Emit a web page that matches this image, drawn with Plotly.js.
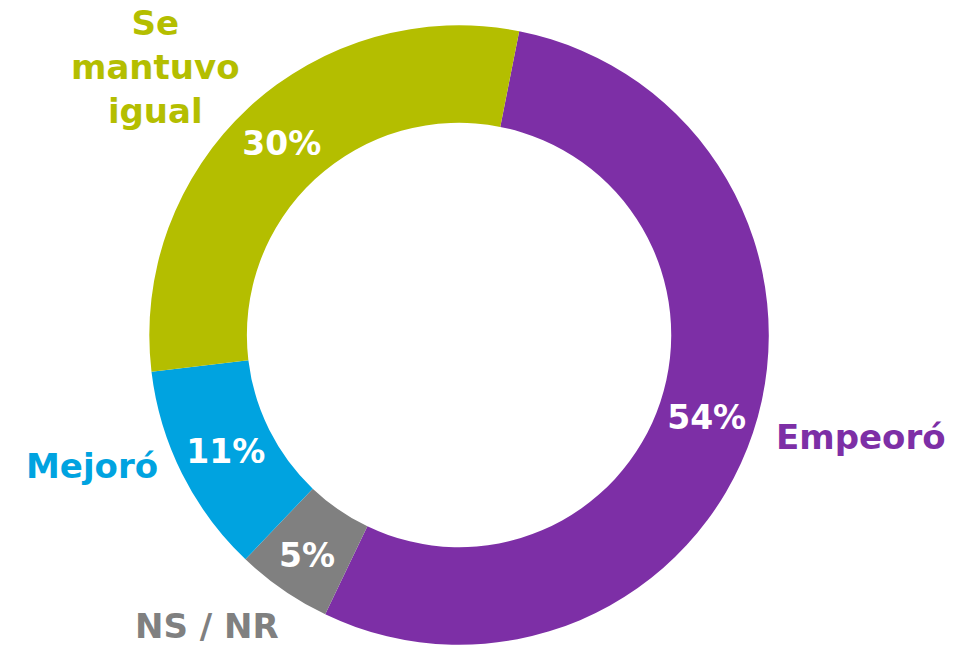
<!DOCTYPE html>
<html>
<head>
<meta charset="utf-8">
<script src="https://cdn.plot.ly/plotly-3.0.1.min.js"></script>
<style>html,body{margin:0;padding:0;background:#fff}#chart{width:979px;height:648px}</style>
</head>
<body>
<div id="chart"></div>
<script>
const categories = ["Empeoró", "NS / NR", "Mejoró", "Se mantuvo igual"];
const labelLines = ["Empeoró", "NS / NR", "Mejoró", "Se<br>mantuvo<br>igual"];
const values = [54, 5, 11, 30];
const colors = ["#7D2FA6", "#808080", "#00A3E0", "#B4BE00"];

const FONT = "DejaVu Sans, Open Sans, sans-serif";

// label placement (paper coords) for the outside category labels
const labelPos = [
  {x: 861/979, y: 1 - 437/648},
  {x: 207/979, y: 1 - 626/648},
  {x: 92/979, y: 1 - 466/648},
  {x: 155/979, y: 1 - 67/648}
];

const trace = {
  type: "pie",
  labels: categories,
  values: values,
  sort: false,
  direction: "clockwise",
  rotation: 11.2,
  hole: 0.685,
  marker: {colors: colors, line: {color: "#ffffff", width: 0}},
  texttemplate: "%{value}%",
  textposition: "inside",
  insidetextorientation: "horizontal",
  textfont: {family: FONT, size: 33, color: "#ffffff", weight: 700},
  domain: {x: [0.1522, 0.7856], y: [0.005, 0.961]},
  showlegend: false,
  hoverinfo: "label+percent"
};

const annotations = categories.map((c, i) => ({
  text: labelLines[i],
  xref: "paper", yref: "paper",
  x: labelPos[i].x, y: labelPos[i].y,
  xanchor: "center", yanchor: "middle",
  showarrow: false,
  align: "center",
  font: {family: FONT, size: 34, color: colors[i], weight: 700}
}));

Plotly.newPlot("chart", [trace], {
  width: 979, height: 648,
  margin: {l: 0, r: 0, t: 0, b: 0},
  paper_bgcolor: "#ffffff",
  annotations: annotations,
  uniformtext: {mode: false}
}, {displayModeBar: false});
</script>
</body>
</html>
